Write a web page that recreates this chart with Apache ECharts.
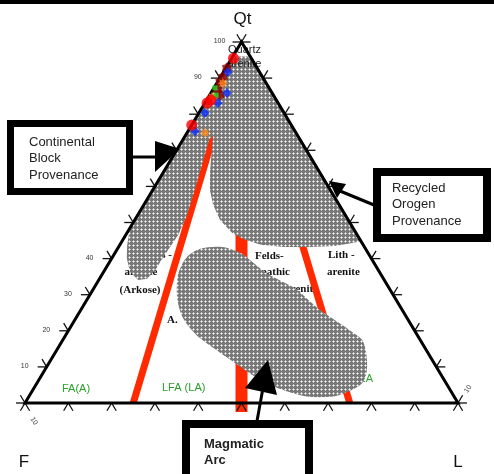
<!DOCTYPE html>
<html>
<head>
<meta charset="utf-8">
<script src="https://cdn.jsdelivr.net/npm/echarts@6.0.0/dist/echarts.min.js"></script>
<style>
  html, body { margin: 0; padding: 0; background: #fff; }
  #chart { width: 494px; height: 474px; }
</style>
</head>
<body>
<div id="chart"></div>
<script>
// All compositions are [Qt, F, L] in percent.

// Apex names
const vertexNames = ['Qt', 'F', 'L'];
const vertexComps = [[100, 0, 0], [0, 100, 0], [0, 0, 100]];

// Tick steps along every side (percent)
const tickSteps = [0, 10, 20, 30, 40, 50, 60, 70, 80, 90, 100];
// Qt values printed along the F–Qt side
const leftTickLabelValues = [10, 20, 30, 40, 90, 100];
const leftTickLabels = ['10', '20', '30', '40', '90', '100'];

// Divider lines (F:L = 3:1, 1:1, 1:3) below Qt 75 %
const dividerStart = [[75, 18.75, 6.25], [75, 12.5, 12.5], [75, 6.25, 18.75]];
const dividerEnd = [[0, 75, 25], [-2.5, 51.25, 51.25], [0, 25, 75]];

// Recycled orogen field joined with the continental block lobe
const recycledOutline = [
  [96, 4, 0], [96, 0, 4], [44.8, 0, 55.2], [44.3, 2.3, 53.4], [43.5, 6.7, 49.8],
  [43.2, 12.6, 44.2], [43.2, 18.4, 38.4], [43.8, 23.4, 32.8], [45.2, 26.6, 28.2],
  [47.1, 28.6, 24.3], [50.7, 29.6, 19.7], [54.9, 29.1, 16.0], [59.0, 27.8, 13.2],
  [64.5, 25.0, 10.5], [70.1, 21.8, 8.1], [74.0, 19.6, 6.4],
  [72.9, 21.0, 6.1], [61.8, 29.2, 9.0], [52.1, 36.5, 11.4], [46.5, 41.4, 12.1],
  [43.2, 44.9, 11.9], [39.9, 48.4, 11.7], [36.6, 51.7, 11.7], [34.4, 54.6, 11.0],
  [34.1, 56.8, 9.1], [36.3, 57.6, 6.1], [40.2, 56.4, 3.4], [43.8, 54.5, 1.7],
  [48.5, 51.5, 0]
];

// Magmatic arc field
const magmaticOutline = [
  [35.5, 46.9, 17.6], [40.2, 42.7, 17.1], [42.7, 38.2, 19.1], [43.2, 32.9, 23.9],
  [41.6, 29.5, 28.9], [39.1, 28.0, 32.9], [36.0, 26.3, 37.7], [33.8, 24.0, 42.2],
  [31.6, 21.6, 46.8], [29.1, 20.5, 50.4], [25.8, 19.0, 55.2], [22.7, 16.8, 60.5],
  [19.7, 14.6, 65.7], [17.5, 13.4, 69.1], [14.1, 14.2, 71.7], [9.1, 16.5, 74.4],
  [5.5, 19.4, 75.1], [2.8, 24.7, 72.5], [1.7, 28.7, 69.6], [1.9, 34.4, 63.7],
  [3.6, 38.6, 57.8], [6.4, 42.5, 51.1], [11.4, 46.2, 42.4], [18.0, 50.6, 31.4],
  [20.8, 51.5, 27.7], [24.1, 51.7, 24.2], [29.1, 50.3, 20.6]
];

// Sample compositions
const samplesMaroon = [[92.8, 7.0, 0.2], [90.3, 9.1, 0.6], [88.9, 10.5, 0.6], [86.7, 12.1, 1.2], [85.3, 12.3, 2.4]];
const samplesBlue = [[91.7, 7.3, 1.0], [85.9, 10.4, 3.7], [83.1, 13.9, 3.0], [80.3, 18.3, 1.4], [75.3, 23.1, 1.6]];
const samplesOrange = [[88.6, 10.0, 1.4], [84.8, 14.4, 0.8], [74.8, 21.0, 4.2]];
const samplesGreen = [[87.3, 12.5, 0.2], [85.3, 13.2, 1.5]];
const samplesRed = [[95.5, 4.1, 0.4], [83.9, 15.1, 1.0], [83.1, 16.4, 0.5], [77.0, 23.0, 0]];

// Ternary -> cartesian (F at origin, L at x=100, Qt at top)
function toXY(c) {
  const s = c[0] + c[1] + c[2];
  const q = c[0] / s * 100, l = c[2] / s * 100;
  return [l + q / 2, q];
}

// Dotted grey fill tile
const tile = document.createElement('canvas');
tile.width = 4; tile.height = 4;
(function () {
  const g = tile.getContext('2d');
  g.fillStyle = '#777777'; g.fillRect(0, 0, 4, 4);
  g.fillStyle = '#bdbdbd';
  g.fillRect(1, 0, 1, 1); g.fillRect(0, 1, 1, 1); g.fillRect(2, 1, 1, 1); g.fillRect(1, 2, 1, 1);
  g.fillStyle = '#ffffff'; g.fillRect(1, 1, 1, 1);
})();
const dotFill = { image: tile, repeat: 'repeat' };

function starPath(n, inner) {
  let d = '';
  for (let i = 0; i < 2 * n; i++) {
    const r = i % 2 ? 50 * inner : 50;
    const a = Math.PI * i / n - Math.PI / 2;
    d += (i ? 'L' : 'M') + (50 + r * Math.cos(a)).toFixed(1) + ' ' + (50 + r * Math.sin(a)).toFixed(1);
  }
  return 'path://' + d + 'Z';
}

function polygonSeries(outline, z, smooth) {
  const pts = outline.map(toXY);
  return {
    type: 'custom', coordinateSystem: 'cartesian2d', z: z, silent: true,
    data: pts,
    renderItem: function (params, api) {
      if (params.dataIndex !== 0) return null;
      return {
        type: 'polygon',
        shape: { points: pts.map(p => api.coord(p)), smooth: smooth },
        style: { fill: dotFill, stroke: null }
      };
    }
  };
}

const dividerWidths = [7, 12, 7];
const dividerData = dividerStart.map((s, i) => toXY(s).concat(toXY(dividerEnd[i])));

const vertexXY = vertexComps.map(toXY);

function frameItem(params, api) {
  if (params.dataIndex !== 0) return null;
  const Q = api.coord(vertexXY[0]), F = api.coord(vertexXY[1]), L = api.coord(vertexXY[2]);
  const unit = (a, b) => { const dx = b[0] - a[0], dy = b[1] - a[1], n = Math.hypot(dx, dy); return [dx / n, dy / n]; };
  const lerp = (a, b, t) => [a[0] + (b[0] - a[0]) * t, a[1] + (b[1] - a[1]) * t];
  const arm = 9;
  const kids = [];
  const addArms = (p, d1, d2) => {
    [d1, d2].forEach(d => kids.push({
      type: 'line',
      shape: { x1: p[0], y1: p[1], x2: p[0] + d[0] * arm, y2: p[1] + d[1] * arm },
      style: { stroke: '#111', lineWidth: 1.3 }
    }));
  };
  tickSteps.forEach(v => {
    const t = v / 100;
    addArms(lerp(F, Q, t), [-1, 0], unit(L, Q));
    addArms(lerp(F, L, t), unit(Q, F), unit(Q, L));
    addArms(lerp(L, Q, t), [1, 0], unit(F, Q));
  });
  kids.push({
    type: 'polygon', shape: { points: [F, L, Q] },
    style: { fill: null, stroke: '#000', lineWidth: 3, lineJoin: 'miter' }
  });
  // tick labels along the F–Qt side
  leftTickLabelValues.forEach((v, i) => {
    const p = lerp(F, Q, v / 100);
    kids.push({
      type: 'text', x: p[0] - 22, y: p[1] - 1,
      style: { text: leftTickLabels[i], fontSize: 7, fontFamily: 'Liberation Sans', fill: '#333', align: 'center', verticalAlign: 'middle' }
    });
  });
  kids.push({ type: 'text', x: F[0] + 9, y: F[1] + 18, rotation: -1.0,
    style: { text: '10', fontSize: 7, fontFamily: 'Liberation Sans', fill: '#333', align: 'center', verticalAlign: 'middle' } });
  kids.push({ type: 'text', x: L[0] + 10, y: L[1] - 14, rotation: 1.0,
    style: { text: '10', fontSize: 7, fontFamily: 'Liberation Sans', fill: '#333', align: 'center', verticalAlign: 'middle' } });
  // apex names
  const nameStyle = { fontSize: 17, fontFamily: 'Liberation Sans', fill: '#111', align: 'center', verticalAlign: 'middle' };
  kids.push({ type: 'text', x: Q[0] + 1, y: Q[1] - 23, style: Object.assign({ text: vertexNames[0] }, nameStyle) });
  kids.push({ type: 'text', x: F[0] - 1, y: F[1] + 59, style: Object.assign({ text: vertexNames[1] }, nameStyle) });
  kids.push({ type: 'text', x: L[0] + 0, y: L[1] + 59, style: Object.assign({ text: vertexNames[2] }, nameStyle) });
  return { type: 'group', children: kids };
}

const serifBold = { fontFamily: 'Liberation Serif', fontWeight: 'bold', fontSize: 11, fill: '#111' };
const greenStyle = { fontFamily: 'Liberation Sans', fontSize: 11, fill: '#2ca02c' };
function txt(x, y, text, base, align, z) {
  return { type: 'text', x: x, y: y, z: z,
    style: Object.assign({ text: text, textAlign: align || 'center', textVerticalAlign: 'middle' }, base) };
}
const boxText = { fontFamily: 'Liberation Sans', fontSize: 13, fill: '#222', lineHeight: 16.5 };

const chart = echarts.init(document.getElementById('chart'), null, { renderer: 'canvas' });
chart.setOption({
  animation: false,
  backgroundColor: '#ffffff',
  grid: { left: 25, right: 36, top: 42, bottom: 71 },
  xAxis: { type: 'value', min: 0, max: 100, show: false },
  yAxis: { type: 'value', min: 0, max: 100, show: false },
  graphic: [
    { type: 'rect', z: 50, shape: { x: 0, y: 0, width: 494, height: 4 }, style: { fill: '#000' } },
    // field names (partly hidden under the shaded fields)
    txt(172, 255, 'Felds -', serifBold, 'right', 1),
    txt(141, 272, 'arenite', serifBold, 'center', 1),
    txt(140, 290, '(Arkose)', serifBold, 'center', 1),
    txt(167, 320, 'A.', serifBold, 'left', 1),
    txt(255, 256, 'Felds-', serifBold, 'left', 1),
    txt(290, 272, 'pathic', serifBold, 'right', 1),
    txt(318, 289, 'Litharenite', serifBold, 'right', 1),
    txt(328, 255, 'Lith -', serifBold, 'left', 1),
    txt(327, 272, 'arenite', serifBold, 'left', 1),
    txt(62, 389, 'FA(A)', greenStyle, 'left', 1),
    txt(162, 388, 'LFA (LA)', greenStyle, 'left', 1),
    txt(284, 386, 'FLA (FA)', greenStyle, 'left', 1),
    txt(373, 379, 'LA', greenStyle, 'right', 1),
    // callouts
    { type: 'rect', z: 50, shape: { x: 10.5, y: 123.5, width: 119, height: 68 }, style: { fill: '#fff', stroke: '#000', lineWidth: 7 } },
    { type: 'text', z: 51, x: 29, y: 134, style: Object.assign({ text: 'Continental\nBlock\nProvenance' }, boxText) },
    { type: 'line', z: 50, shape: { x1: 133, y1: 157, x2: 158, y2: 157 }, style: { stroke: '#000', lineWidth: 3 } },
    { type: 'polygon', z: 50, shape: { points: [[155, 141], [155, 172], [180, 149]] }, style: { fill: '#000' } },

    { type: 'rect', z: 50, shape: { x: 377, y: 172, width: 110, height: 66 }, style: { fill: '#fff', stroke: '#000', lineWidth: 8 } },
    { type: 'text', z: 51, x: 392, y: 180, style: Object.assign({ text: 'Recycled\nOrogen\nProvenance' }, boxText) },
    { type: 'line', z: 50, shape: { x1: 374, y1: 205, x2: 340, y2: 191 }, style: { stroke: '#000', lineWidth: 3 } },
    { type: 'polygon', z: 50, shape: { points: [[329, 181], [346, 184], [337, 198]] }, style: { fill: '#000' } },

    { type: 'rect', z: 50, shape: { x: 186, y: 424, width: 123, height: 70 }, style: { fill: '#fff', stroke: '#000', lineWidth: 8 } },
    { type: 'text', z: 51, x: 204, y: 436, style: Object.assign({ text: 'Magmatic\nArc', fontWeight: 'bold' }, boxText) },
    { type: 'line', z: 50, shape: { x1: 257, y1: 421, x2: 263, y2: 388 }, style: { stroke: '#000', lineWidth: 3 } },
    { type: 'polygon', z: 50, shape: { points: [[268, 360], [245, 388], [277, 395]] }, style: { fill: '#000' } }
  ],
  series: [
    {
      type: 'custom', coordinateSystem: 'cartesian2d', z: 2, silent: true,
      data: dividerData,
      encode: { x: [0, 2], y: [1, 3] },
      renderItem: function (params, api) {
        const a = api.coord([api.value(0), api.value(1)]);
        const b = api.coord([api.value(2), api.value(3)]);
        return { type: 'line', shape: { x1: a[0], y1: a[1], x2: b[0], y2: b[1] },
          style: { stroke: '#ff2a00', lineWidth: dividerWidths[params.dataIndex], lineCap: 'butt' } };
      }
    },
    polygonSeries(recycledOutline, 3, 0),
    polygonSeries(magmaticOutline, 3, 0.3),
    {
      type: 'custom', coordinateSystem: 'cartesian2d', z: 4, silent: true,
      data: [toXY([97, 1.5, 1.5])],
      renderItem: function (params, api) {
        const p = api.coord([api.value(0), api.value(1)]);
        return { type: 'text', x: p[0] + 3, y: p[1] + 4,
          style: { text: 'Quartz\narenite', fontFamily: 'Liberation Sans', fontSize: 11, lineHeight: 14, fill: '#222', align: 'center', verticalAlign: 'middle' } };
      }
    },
    {
      type: 'custom', coordinateSystem: 'cartesian2d', z: 5, silent: true,
      data: vertexXY, renderItem: frameItem
    },
    { type: 'scatter', z: 6, data: samplesMaroon.map(toXY), symbol: starPath(6, 0.72), symbolKeepAspect: true, symbolSize: 11, itemStyle: { color: '#8b0000' } },
    { type: 'scatter', z: 6, data: samplesBlue.map(toXY), symbol: 'diamond', symbolSize: [9, 10], itemStyle: { color: '#0a2cff' } },
    { type: 'scatter', z: 6, data: samplesOrange.map(toXY), symbol: starPath(8, 0.5), symbolKeepAspect: true, symbolSize: 11, itemStyle: { color: '#ff8a1e' } },
    { type: 'scatter', z: 6, data: samplesGreen.map(toXY), symbol: 'rect', symbolSize: 5, itemStyle: { color: '#22dd22' } },
    { type: 'scatter', z: 6, data: samplesRed.map(toXY), symbol: 'circle', symbolSize: 11, itemStyle: { color: '#ff0000' } }
  ]
});
</script>
</body>
</html>
